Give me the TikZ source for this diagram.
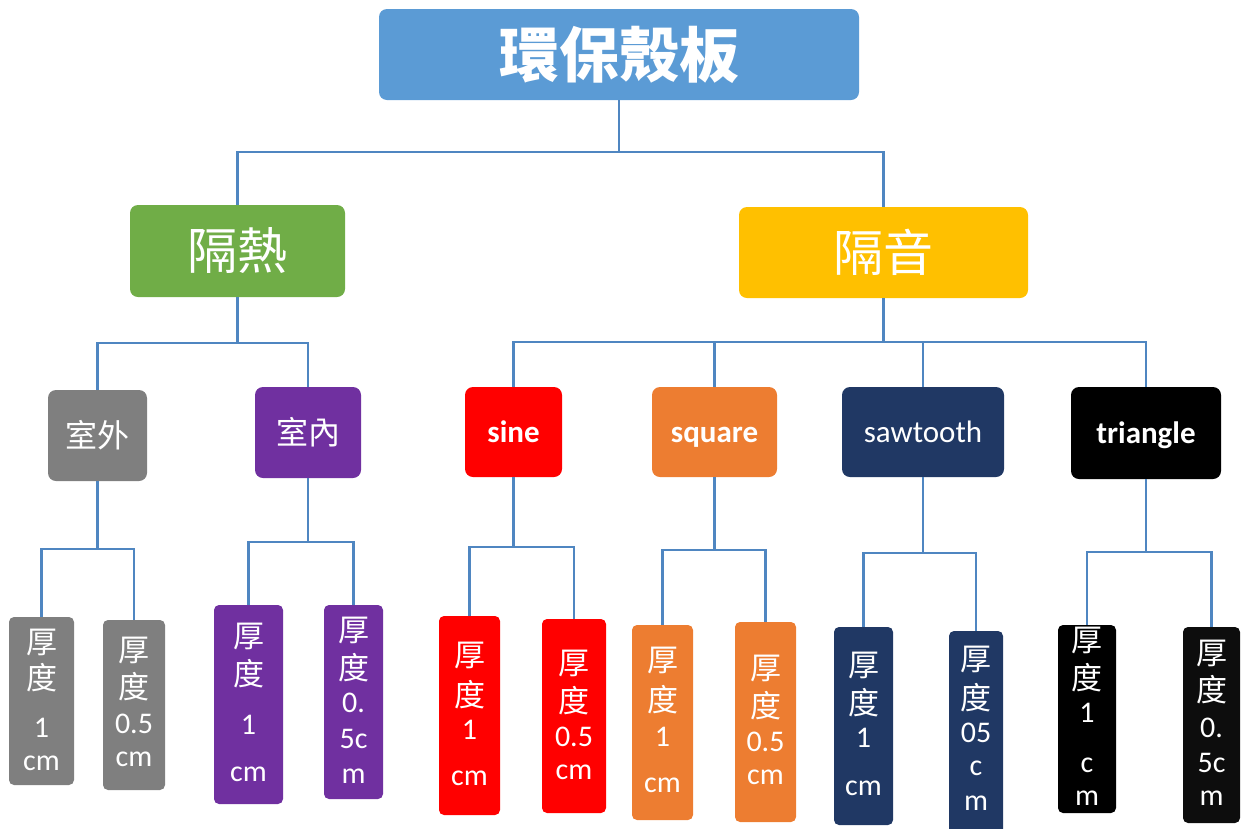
\documentclass[tikz,border=0pt]{standalone}
\usepackage{fontspec}
\setmainfont{Carlito}
\newfontfamily\cjk{Noto Sans CJK TC}
\definecolor{topc}{HTML}{5B9BD5}
\definecolor{greenc}{HTML}{70AD47}
\definecolor{goldc}{HTML}{FFC000}
\definecolor{grayc}{HTML}{7F7F7F}
\definecolor{purplec}{HTML}{7030A0}
\definecolor{redc}{HTML}{FF0000}
\definecolor{orangec}{HTML}{ED7D31}
\definecolor{navyc}{HTML}{203864}
\definecolor{blackc}{HTML}{000000}
\definecolor{connc}{HTML}{4F86C1}
\tikzset{
  box/.style={rectangle, rounded corners=8pt, inner sep=0pt, text=white},
  leafbox/.style={rectangle, rounded corners=5pt, inner sep=0pt},
  conn/.style={draw=connc, line width=2.6pt},
  cjkt/.style={inner sep=0pt, text=white, font=\cjk\fontsize{31}{31}\selectfont},
  lat/.style={inner sep=0pt, text=white, font=\fontsize{30}{30}\selectfont},
  midcjk/.style={font=\cjk\fontsize{32}{32}\selectfont},
  midlat/.style={font=\fontsize{31}{31}\selectfont, text height=27pt, text depth=7pt},
  midlatb/.style={font=\bfseries\fontsize{31}{31}\selectfont, text height=27pt, text depth=7pt},
}
\newcommand\leafinfo[5]{%
  \node[cjkt] (#1a) at (#2,#3) {厚};
  \node[cjkt] (#1b) at (#2,#4) {度};
  \foreach \yy/\ss [count=\i] in {#5} {\node[lat] (#1n\i) at (#2,\yy) {\ss};}
}
\begin{document}
\begin{tikzpicture}[x=1pt,y=-1pt]
\useasboundingbox (0,0) rectangle (1241,828);
% top
\node[box, fill=topc, minimum width=480pt, minimum height=91pt, font=\cjk\bfseries\fontsize{60}{60}\selectfont] (top) at (619,54.5) {環保殼板};
% level 1
\node[box, fill=greenc, minimum width=215pt, minimum height=92pt, font=\cjk\fontsize{50}{50}\selectfont] (g1) at (237.5,251) {隔熱};
\node[box, fill=goldc, minimum width=289pt, minimum height=91pt, font=\cjk\fontsize{50}{50}\selectfont] (g2) at (883.5,252.5) {隔音};
% level 2
\node[box, fill=grayc, minimum width=99pt, minimum height=91pt, midcjk] (m1) at (97.5,435.5) {室外};
\node[box, fill=purplec, minimum width=106pt, minimum height=91pt, midcjk] (m2) at (308,432.5) {室內};
\node[box, fill=redc, minimum width=97pt, minimum height=90pt, midlatb] (m3) at (513.5,432) {sine};
\node[box, fill=orangec, minimum width=125pt, minimum height=90pt, midlatb] (m4) at (714.5,432) {square};
\node[box, fill=navyc, minimum width=162pt, minimum height=90pt, midlat] (m5) at (923,432) {sawtooth};
\node[box, fill=blackc, minimum width=150pt, minimum height=92pt, midlatb] (m6) at (1146,433) {triangle};
% leaves
\node[leafbox, fill=grayc, minimum width=65pt, minimum height=168pt] (l1) at (41.5,701) {};
\node[leafbox, fill=grayc, minimum width=62pt, minimum height=170pt] (l2) at (134,705) {};
\node[leafbox, fill=purplec, minimum width=69pt, minimum height=199pt] (l3) at (248.5,704.5) {};
\node[leafbox, fill=purplec, minimum width=59pt, minimum height=194pt] (l4) at (353.5,702) {};
\node[leafbox, fill=redc, minimum width=61pt, minimum height=199pt] (l5) at (469.5,715.5) {};
\node[leafbox, fill=redc, minimum width=64pt, minimum height=194pt] (l6) at (574,716) {};
\node[leafbox, fill=orangec, minimum width=61pt, minimum height=195pt] (l7) at (662.5,722.5) {};
\node[leafbox, fill=orangec, minimum width=61pt, minimum height=200pt] (l8) at (765.5,722) {};
\node[leafbox, fill=navyc, minimum width=59pt, minimum height=198pt] (l9) at (863.5,726) {};
\node[leafbox, fill=navyc, minimum width=54pt, minimum height=210pt] (l10) at (976,736) {};
\node[leafbox, fill=blackc, minimum width=58pt, minimum height=188pt] (l11) at (1087,719) {};
\node[leafbox, fill=black!95, minimum width=57pt, minimum height=196pt] (l12) at (1211.5,725) {};
% leaf texts
\leafinfo{t1}{41.5}{642}{678}{728/1, 763/cm}
\leafinfo{t2}{134}{650}{687}{724/0.5, 759/cm}
\leafinfo{t3}{248.5}{636}{674}{725/1, 774/cm}
\leafinfo{t4}{353.5}{630}{668}{703/0., 739/5c, 776/m}
\leafinfo{t5}{469.5}{655}{695}{730/1, 778/cm}
\leafinfo{t6}{574}{663}{701}{737/0.5, 772/cm}
\leafinfo{t7}{662.5}{660}{700}{737/1, 785/cm}
\leafinfo{t8}{765.5}{668}{706}{742/0.5, 777/cm}
\leafinfo{t9}{863.5}{665}{703}{738/1, 788/cm}
\leafinfo{t10}{976}{659}{698}{733/05, 768/c, 803/m}
\leafinfo{t11}{1087}{640}{678}{713/1, 765/c, 798/m}
\leafinfo{t12}{1211.5}{653}{690}{728/0., 763/5c, 798/m}
% junctions
\coordinate (jT) at (619,152);
\coordinate (jA) at (237.5,343);
\coordinate (jB) at (883.5,342);
\coordinate (j1) at (97.5,549);
\coordinate (j2) at (308,542);
\coordinate (j3) at (513.5,547);
\coordinate (j4) at (714.5,550);
\coordinate (j5) at (923,553);
\coordinate (j6) at (1146,552);
% connectors
\draw[conn] (top.south) -- (jT) -| (g1.north);
\draw[conn] (jT) -| (g2.north);
\draw[conn] (g1.south) -- (jA) -| (m1.north);
\draw[conn] (jA) -| (m2.north);
\draw[conn] (g2.south) -- (jB) -| (m3.north);
\draw[conn] (jB) -| (m4.north);
\draw[conn] (jB) -| (m5.north);
\draw[conn] (jB) -| (m6.north);
\draw[conn] (m1.south) -- (j1) -| (l1.north);
\draw[conn] (j1) -| (l2.north);
\draw[conn] (m2.south) -- (j2) -| (l3.north);
\draw[conn] (j2) -| (l4.north);
\draw[conn] (m3.south) -- (j3) -| (l5.north);
\draw[conn] (j3) -| (l6.north);
\draw[conn] (m4.south) -- (j4) -| (l7.north);
\draw[conn] (j4) -| (l8.north);
\draw[conn] (m5.south) -- (j5) -| (l9.north);
\draw[conn] (j5) -| (l10.north);
\draw[conn] (m6.south) -- (j6) -| (l11.north);
\draw[conn] (j6) -| (l12.north);
\end{tikzpicture}
\end{document}
